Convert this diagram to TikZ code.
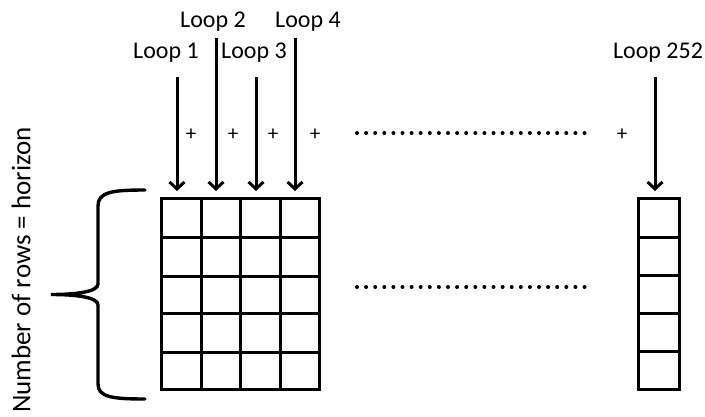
\documentclass[tikz,border=0pt]{standalone}
\usepackage{fontspec}
\setmainfont{Carlito}
\usetikzlibrary{arrows.meta}

\begin{document}
\begin{tikzpicture}[x=1pt, y=-1pt,
                    looplabel/.style={inner sep=0pt, font=\fontsize{24}{28}\selectfont},
                    plussign/.style={inner sep=0pt, font=\fontsize{21}{24}\selectfont},
                    feed/.style={line width=3pt, -{Straight Barb[length=7pt, width=15pt]}},
                    gridline/.style={line width=3pt},
                    dots/.style={line width=4pt, line cap=round, dash pattern=on 0pt off 9.1pt},
                    brace/.style={line width=3.4pt, line cap=round}]
        \useasboundingbox (0,0) rectangle (705,416);

        % Loop labels
        \node[looplabel] (L1) at (166,53) {Loop 1};
        \node[looplabel] (L2) at (213,22) {Loop 2};
        \node[looplabel] (L3) at (254,53) {Loop 3};
        \node[looplabel] (L4) at (308,22) {Loop 4};
        \node[looplabel] (L252) at (658,53) {Loop 252};

        % Row count label
        \node[looplabel, font=\fontsize{27}{30}\selectfont, rotate=90] (rows) at (21,270) {Number of rows = horizon};

        % Arrow ends
        \coordinate (s1) at (177,77);   \coordinate (e1) at (177,191);
        \coordinate (s2) at (216,38);   \coordinate (e2) at (216,191);
        \coordinate (s3) at (256,77);   \coordinate (e3) at (256,191);
        \coordinate (s4) at (295,38);   \coordinate (e4) at (295,191);
        \coordinate (s252) at (655,77); \coordinate (e252) at (655,191);

        \draw[feed] (s1) -- (e1);
        \draw[feed] (s2) -- (e2);
        \draw[feed] (s3) -- (e3);
        \draw[feed] (s4) -- (e4);
        \draw[feed] (s252) -- (e252);

        % Plus signs
        \node[plussign] (p1) at (191,135) {+};
        \node[plussign] (p2) at (233,135) {+};
        \node[plussign] (p3) at (273,135) {+};
        \node[plussign] (p4) at (315,135) {+};
        \node[plussign] (p252) at (622,135) {+};

        % Main grid
        \draw[gridline] (161,198) rectangle (319,389);
        \draw[gridline] (201,198) -- (201,389);
        \draw[gridline] (240,198) -- (240,389);
        \draw[gridline] (280,198) -- (280,389);
        \draw[gridline] (161,237) -- (319,237);
        \draw[gridline] (161,276) -- (319,276);
        \draw[gridline] (161,313) -- (319,313);
        \draw[gridline] (161,352) -- (319,352);

        % Last column
        \draw[gridline] (638,198) rectangle (679,389);
        \draw[gridline] (638,237) -- (679,237);
        \draw[gridline] (638,275) -- (679,275);
        \draw[gridline] (638,313) -- (679,313);
        \draw[gridline] (638,351) -- (679,351);

        % Dotted gaps
        \coordinate (d1a) at (357,133); \coordinate (d1b) at (593,133);
        \coordinate (d2a) at (357,287); \coordinate (d2b) at (593,287);
        \draw[dots] (d1a) -- (d1b);
        \draw[dots] (d2a) -- (d2b);

        % Brace
        \coordinate (btop) at (145,190);
        \coordinate (btip) at (51,294.5);
        \coordinate (bbot) at (145,399);
        \draw[brace] (btop) .. controls (112,190) and (98,192) .. (98,206) -- (98,284)
                     .. controls (98,292) and (75,294.5) .. (btip)
                     .. controls (75,294.5) and (98,297) .. (98,305) -- (98,384)
                     .. controls (98,397) and (112,399) .. (bbot);
    \end{tikzpicture}
\end{document}
